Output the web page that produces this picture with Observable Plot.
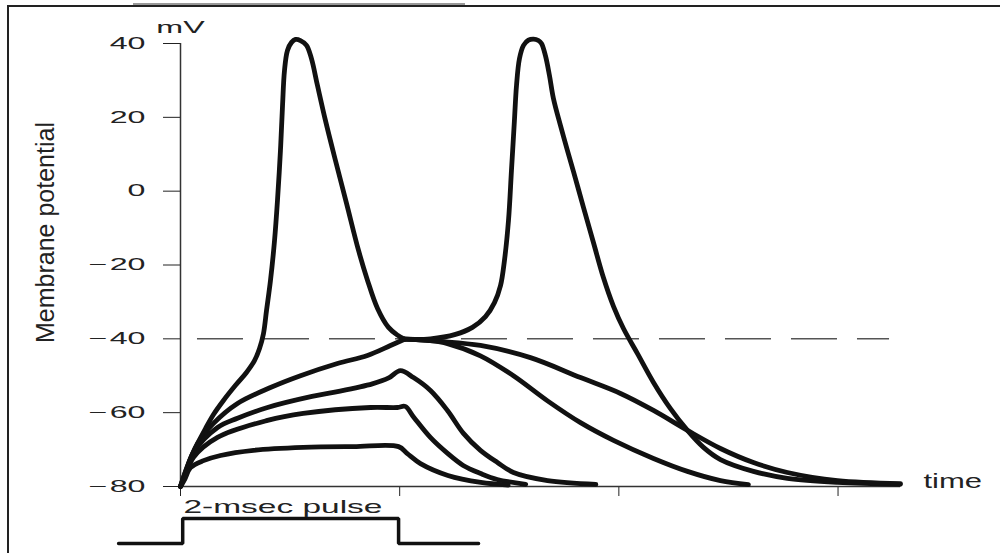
<!DOCTYPE html>
<html>
<head>
<meta charset="utf-8">
<script src="https://cdn.jsdelivr.net/npm/d3@7"></script>
<script src="https://cdn.jsdelivr.net/npm/@observablehq/plot@0.6"></script>
<style>
  html, body { margin: 0; padding: 0; background: #fff; }
  #wrap { position: relative; width: 1000px; height: 553px; overflow: hidden; background: #fff; }
  #wrap svg { position: absolute; left: 0; }
  .frame { position: absolute; background: #222; }
</style>
</head>
<body>
<div id="wrap">
  <div class="frame" style="left:133px;top:3px;width:332px;height:1.5px;background:#999"></div>
  <div class="frame" style="left:7px;top:5px;width:993px;height:2px"></div>
  <div class="frame" style="left:7px;top:5px;width:2px;height:548px"></div>
</div>
<script>
// ---- data: time (ms) and membrane potential (mV) ----
const yTicks = [40, 20, 0, -20, -40, -60, -80];
const xTicks = [0, 2, 4, 6];
const timeEnd = 6.57;
const thresholdV = -40;
const thresholdStart = 0.155;
const thresholdEnd = 6.47;

// strong stimulus: spike during the pulse
const spikeEarly = [[0,-80],[0.036,-76.7],[0.091,-72.4],[0.155,-68.4],[0.228,-64.3],[0.301,-60.5],[0.392,-56.7],[0.502,-52.6],[0.602,-49.1],[0.675,-45.9],[0.721,-42.6],[0.757,-38.6],[0.785,-32.3],[0.821,-24.2],[0.858,-13.4],[0.885,-2.5],[0.912,11.0],[0.931,23.2],[0.949,32.7],[0.976,38.1],[1.013,40.3],[1.049,41.1],[1.095,40.8],[1.150,39.5],[1.195,35.9],[1.250,28.6],[1.323,19.1],[1.414,8.3],[1.515,-3.3],[1.624,-16.0],[1.706,-24.1],[1.797,-31.7],[1.898,-36.9],[1.980,-39.0],[2.044,-40.1]];
// threshold stimulus: reaches -40 at the end of the pulse
const thresholdRise = [[0,-80],[0.04,-76.5],[0.155,-68.4],[0.301,-62.9],[0.52,-57.5],[0.821,-53.2],[1.095,-50.0],[1.432,-46.7],[1.706,-44.5],[1.916,-41.8],[2.044,-40.1]];
// subthreshold stimuli
const sub48 = [[0,-80],[0.04,-77],[0.119,-70.8],[0.338,-64.0],[0.52,-61.5],[0.794,-58.6],[1.2,-55.6],[1.396,-54.5],[1.75,-52.2],[1.9,-50.6],[2.007,-48.6],[2.126,-50.5],[2.281,-54.0],[2.436,-59.4],[2.582,-65.6],[2.737,-70.2],[2.892,-73.5],[3.038,-76.2],[3.35,-78.4],[3.79,-79.4]];
const sub58 = [[0,-80],[0.04,-77.5],[0.119,-72.1],[0.338,-66.7],[0.794,-62.1],[1.12,-60.2],[1.734,-58.6],[1.98,-58.6],[2.05,-58.3],[2.13,-61.3],[2.28,-66.7],[2.44,-71.1],[2.58,-74.3],[2.74,-76.5],[2.89,-78.1],[3.15,-79.4]];
const sub69 = [[0,-80],[0.04,-78],[0.091,-74.9],[0.21,-73.0],[0.365,-71.6],[0.666,-70.2],[1.12,-69.4],[1.58,-69.2],[1.99,-69.2],[2.07,-71.1],[2.19,-73.8],[2.44,-77.0],[2.74,-78.9],[2.99,-79.6]];
// after the pulse, from the -40 mV point
const spikeLate = [[2.044,-40.1],[2.281,-40.0],[2.509,-38.8],[2.664,-36.9],[2.783,-34.0],[2.865,-30.2],[2.920,-25.6],[2.956,-18.8],[2.993,-7.9],[3.020,5.6],[3.047,19.1],[3.066,28.6],[3.093,35.9],[3.130,39.5],[3.175,40.9],[3.221,41.2],[3.266,40.8],[3.294,40.0],[3.330,36.7],[3.367,31.3],[3.403,25.1],[3.467,17.8],[3.531,11.0],[3.604,3.4],[3.677,-4.4],[3.768,-13.9],[3.859,-23.4],[3.951,-31.2],[4.042,-37.2],[4.170,-44.0],[4.316,-51.8],[4.471,-58.9],[4.626,-64.8],[4.772,-69.4],[4.927,-72.7],[5.228,-75.9],[5.538,-77.8],[5.995,-78.9],[6.569,-79.4]];
const slowDecay = [[2.044,-40.1],[2.372,-40.7],[2.737,-41.8],[3.193,-45.1],[3.650,-50.5],[4.015,-54.8],[4.316,-59.4],[4.626,-64.8],[4.927,-69.7],[5.228,-73.5],[5.538,-76.2],[5.995,-78.4],[6.569,-79.2]];
const fastDecay = [[2.044,-40.1],[2.281,-40.5],[2.436,-41.3],[2.737,-44.6],[3.038,-50.0],[3.349,-56.8],[3.650,-62.7],[3.951,-67.5],[4.316,-72.4],[4.626,-75.9],[4.927,-78.4],[5.182,-79.5]];

// stimulus pulse (level 0/1)
const pulseT = [-0.565, 0.02, 0.02, 1.99, 1.99, 2.72];
const pulseLevel = [0, 0, 1, 1, 0, 0];

const traces = {spikeEarly, thresholdRise, sub48, sub58, sub69, spikeLate, slowDecay, fastDecay};
const rows = Object.entries(traces).flatMap(([trace, pts]) => pts.map(([t, v]) => ({trace, t, v})));
const pulse = pulseT.map((t, i) => ({t, level: pulseLevel[i]}));

const FONT = "Liberation Sans, Arial, Helvetica, sans-serif";
const fmt = d => d < 0 ? "\u2212\u200A" + (-d) : String(d);

const main = Plot.plot({
  width: 1000, height: 500,
  marginLeft: 180, marginRight: 100, marginTop: 43, marginBottom: 14,
  style: {fontFamily: FONT, fontSize: "16.5px", color: "#222", background: "transparent", overflow: "visible"},
  x: {domain: [0, timeEnd], ticks: xTicks, tickSize: 10, tickFormat: () => "", label: null},
  y: {domain: [-80, 40], ticks: yTicks, tickSize: 17, tickPadding: 18, tickFormat: fmt, label: null},
  marks: [
    Plot.ruleY([thresholdV], {x1: thresholdStart, x2: thresholdEnd, stroke: "#555", strokeWidth: 1.5, strokeDasharray: "46,20"}),
    Plot.ruleX([0], {y1: -80, y2: 40, stroke: "#333", strokeWidth: 1.5}),
    Plot.ruleY([-80], {x1: 0, x2: timeEnd, stroke: "#333", strokeWidth: 1.5}),
    Plot.line(rows, {x: "t", y: "v", z: "trace", stroke: "#111", strokeWidth: 4.8, curve: "catmull-rom", strokeLinejoin: "round", strokeLinecap: "round"}),
    Plot.text(["mV"], {x: 0, y: 40, text: d => d, textAnchor: "middle", lineAnchor: "bottom", dy: -11, fontSize: 16.5, fontFamily: FONT, fill: "#222"}),
    Plot.text(["time"], {x: timeEnd, y: -80, text: d => d, textAnchor: "start", lineAnchor: "bottom", dx: 23, dy: 1, fontSize: 20, fontFamily: FONT, fill: "#222"}),
    Plot.text(["Membrane potential"], {x: -1.223, y: -11.2, text: d => d, rotate: -90, textAnchor: "middle", lineAnchor: "middle", fontSize: 25, fontFamily: FONT, fill: "#222"})
  ]
});

const stim = Plot.plot({
  width: 1000, height: 63,
  marginLeft: 180, marginRight: 100, marginTop: 28, marginBottom: 10,
  style: {fontFamily: FONT, fontSize: "16px", color: "#222", background: "transparent", overflow: "visible"},
  x: {domain: [0, timeEnd], axis: null},
  y: {domain: [0, 1], axis: null},
  marks: [
    Plot.line(pulse, {x: "t", y: "level", stroke: "#111", strokeWidth: 3.5, strokeLinejoin: "miter"}),
    Plot.text(["2-msec pulse"], {x: 0, y: 1, text: d => d, textAnchor: "start", lineAnchor: "bottom", dx: 3, dy: -6, fontSize: 19, fontFamily: FONT, fill: "#222"})
  ]
});

const wrap = document.getElementById("wrap");
main.style.top = "0px";
stim.style.top = "490px";
wrap.appendChild(main);
wrap.appendChild(stim);

// the reference figure is stretched horizontally: widen the lettering to match
const stretch = {"mV": 1.95, "time": 1.55, "2-msec pulse": 1.76, "Membrane potential": 1};
for (const svg of [main, stim]) {
  for (const t of svg.querySelectorAll("text")) {
    const s = t.textContent;
    if (!s) continue;
    const f = stretch[s] ?? 1.95;
    if (f === 1) continue;
    const L = t.getComputedTextLength();
    if (L > 0) {
      t.setAttribute("textLength", (L * f).toFixed(1));
      t.setAttribute("lengthAdjust", "spacingAndGlyphs");
    }
  }
}
</script>
</body>
</html>
